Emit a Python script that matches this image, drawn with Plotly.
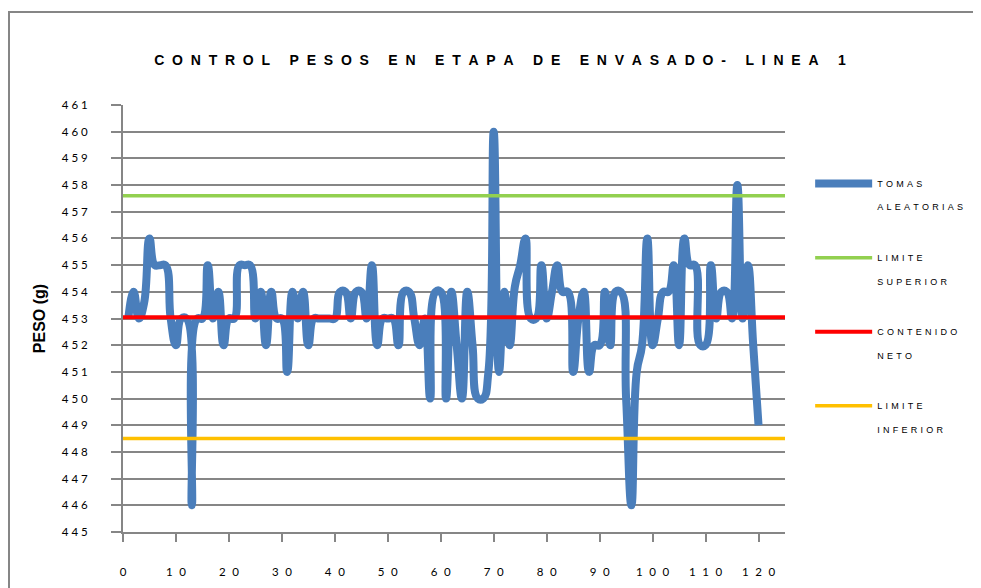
import plotly.graph_objects as go

# ---- data ----
muestra = list(range(1, 121))
peso = [453, 454, 453, 453.6, 456, 455, 455, 455, 453, 452,
        453, 453, 446, 453, 453, 455, 453, 454, 452, 453,
        453, 455, 455, 455, 453, 454, 452, 454, 453, 453,
        451, 454, 453, 454, 452, 453, 453, 453, 453, 453,
        454, 454, 453, 454, 454, 453, 455, 452, 453, 453,
        453, 452, 454, 454, 453, 452, 453, 450, 454, 454,
        450, 454, 452, 450, 454, 452, 450, 450, 451, 460,
        451, 454, 452, 454.2, 455, 456, 453, 453, 455, 453,
        454, 455, 454, 454, 451, 453, 454, 451, 452, 452,
        454, 452, 454, 454, 450, 446, 451, 452, 456, 452,
        453, 454, 454, 455, 452, 456, 455, 455, 452, 452,
        455, 453, 454, 454, 453, 458, 453, 455, 452, 449]
limite_x = [0, 125]
limite_superior = 457.6
contenido_neto = 453.05
limite_inferior = 448.5

y_tickvals = list(range(445, 462))
y_ticktext = ["\u00a0".join(str(v)) for v in y_tickvals]
x_tickvals = list(range(0, 121, 10))
x_ticktext = ["\u00a0\u00a0\u200a".join(str(v)) for v in x_tickvals]


def spread(text, gap="\u00a0\u00a0", wordgap="\u00a0" * 5):
    words = text.split(" ")
    return wordgap.join(gap.join(w) for w in words)


def legend_label(line1, line2):
    g = "\u00a0\u200a"
    return spread(line1, g, g) + "<br><br>" + spread(line2, g, g)


FONT = "Liberation Sans, Arial, sans-serif"
TICKFONT = "Lato, Liberation Sans, sans-serif"
GRID = "#868686"

fig = go.Figure()
fig.add_trace(go.Scatter(
    x=muestra, y=peso, mode="lines",
    line=dict(color="#4a7ebb", width=8, shape="spline", smoothing=1.3),
    name=legend_label("TOMAS", "ALEATORIAS"), legendgroup="a"))
fig.add_trace(go.Scatter(
    x=limite_x, y=[limite_superior] * 2, mode="lines", line=dict(color="#92d050", width=3.5),
    name=legend_label("LIMITE", "SUPERIOR"), legendgroup="b"))
fig.add_trace(go.Scatter(
    x=limite_x, y=[contenido_neto] * 2, mode="lines", line=dict(color="#ff0000", width=4),
    name=legend_label("CONTENIDO", "NETO"), legendgroup="c"))
fig.add_trace(go.Scatter(
    x=limite_x, y=[limite_inferior] * 2, mode="lines", line=dict(color="#ffc000", width=3.5),
    name=legend_label("LIMITE", "INFERIOR"), legendgroup="d"))

fig.update_layout(
    width=981, height=588,
    margin=dict(l=115, r=204, t=97, b=64),
    paper_bgcolor="white", plot_bgcolor="white",
    font=dict(family=FONT, color="black", size=13),
    title=dict(text="<b>" + spread("CONTROL PESOS EN ETAPA DE ENVASADO- LINEA 1") + "</b>",
               x=0.5015, xanchor="center", y=1 - 52 / 588, yanchor="middle",
               font=dict(size=14, family=FONT)),
    showlegend=True,
    legend=dict(x=1.038, xanchor="left", y=0.845, yanchor="top", valign="top",
                font=dict(size=9, family=FONT), tracegroupgap=36, traceorder="grouped",
                itemwidth=57, bgcolor="rgba(0,0,0,0)"),
    xaxis=dict(range=[0, 125], tickvals=x_tickvals, ticktext=x_ticktext,
               showgrid=False, zeroline=False, showline=True, linecolor=GRID, linewidth=2,
               ticks="outside", ticklen=8, tickcolor=GRID, tickwidth=2,
               ticklabelstandoff=20, tickfont=dict(size=11.5, family=TICKFONT)),
    yaxis=dict(range=[445, 461], tickvals=y_tickvals, ticktext=y_ticktext,
               showgrid=True, gridcolor=GRID, gridwidth=2, zeroline=False,
               showline=True, linecolor=GRID, linewidth=2,
               ticks="outside", ticklen=10, tickcolor=GRID, tickwidth=2,
               ticklabelstandoff=21, tickfont=dict(size=11.5, family=TICKFONT),
               title=dict(text="<b>PESO (g)</b>", standoff=12, font=dict(size=16))),
    shapes=[dict(type="rect", xref="paper", yref="paper",
                 x0=-0.1722, x1=1.31, y0=-0.16, y1=1.2178,
                 line=dict(color=GRID, width=2), fillcolor="rgba(0,0,0,0)")],
)

fig.write_html("out.html")
